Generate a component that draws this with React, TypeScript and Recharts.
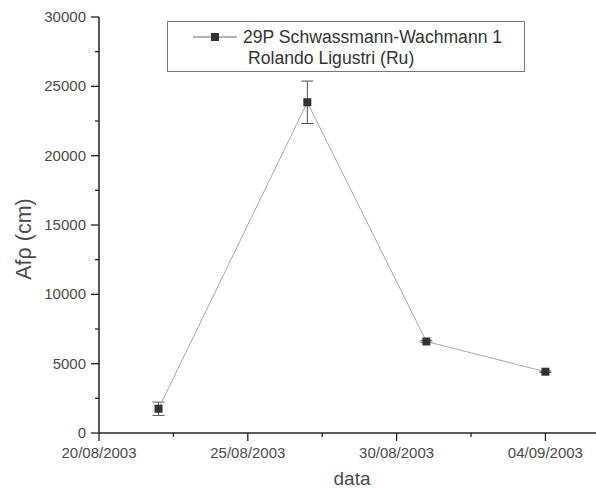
import React from 'react';
import { LineChart, Line, XAxis, YAxis, ErrorBar, Legend } from 'recharts';

const dates = ['22/08/2003', '27/08/2003', '31/08/2003', '04/09/2003'];
const afrho = [1750, 23850, 6600, 4420];
const afrhoErr = [480, 1530, 60, 50];
const xTickLabels = ['20/08/2003', '25/08/2003', '30/08/2003', '04/09/2003'];
const xMinorTickLabels = ['22/08/2003', '27/08/2003', '01/09/2003'];
const yTicks = [0, 5000, 10000, 15000, 20000, 25000, 30000];
const yMinorTicks = [2500, 7500, 12500, 17500, 22500, 27500];
const seriesName = '29P Schwassmann-Wachmann 1';
const seriesSub = 'Rolando Ligustri (Ru)';

const DAY = 86400000;
const parse = (s: string) => {
  const [d, m, y] = s.split('/').map(Number);
  return Date.UTC(y, m - 1, d);
};
const fmt = (t: number) => {
  const dt = new Date(t);
  const dd = String(dt.getUTCDate()).padStart(2, '0');
  const mm = String(dt.getUTCMonth() + 1).padStart(2, '0');
  return `${dd}/${mm}/${dt.getUTCFullYear()}`;
};

const data = dates.map((d, i) => ({ t: parse(d), v: afrho[i], e: afrhoErr[i] }));
const majorX = xTickLabels.map(parse);
// minor ticks halfway between major ticks
const minorX = xMinorTickLabels.map((s) => parse(s) + DAY / 2);
const allX = [...majorX, ...minorX].sort((a, b) => a - b);
const xStart = majorX[0];
const xEnd = xStart + 16.7 * DAY;
const allY = [...yTicks, ...yMinorTicks].sort((a, b) => a - b);

const FONT = 'Liberation Sans, Arial, sans-serif';
const AXIS = '#222';
const TXT = '#4a4a4a';

const XTick = (props: any) => {
  const { x, y, payload } = props;
  const major = majorX.includes(payload.value);
  return (
    <g>
      <line x1={x} x2={x} y1={y} y2={y + (major ? 8 : 4)} stroke={AXIS} strokeWidth={1.3} />
      {major && (
        <text x={x} y={y + 25} textAnchor="middle" fontSize={15} fill={TXT} fontFamily={FONT}>
          {fmt(payload.value)}
        </text>
      )}
    </g>
  );
};

const YTick = (props: any) => {
  const { x, y, payload } = props;
  const major = yTicks.includes(payload.value);
  return (
    <g>
      <line x1={x - (major ? 8 : 4)} x2={x} y1={y} y2={y} stroke={AXIS} strokeWidth={1.3} />
      {major && (
        <text x={x - 13} y={y + 5} textAnchor="end" fontSize={15} fill={TXT} fontFamily={FONT}>
          {payload.value}
        </text>
      )}
    </g>
  );
};

const SquareDot = (props: any) => {
  const { cx, cy } = props;
  if (cx == null || cy == null) return null;
  return <rect x={cx - 4} y={cy - 4} width={8} height={8} fill="#333" />;
};

const LegendBox = () => (
  <svg width={358} height={51} style={{ display: 'block' }}>
    <rect x={0.5} y={0.5} width={357} height={50} fill="#fff" stroke="#777" strokeWidth={1} />
    <line x1={26} x2={70} y1={16} y2={16} stroke="#666" strokeWidth={1} />
    <rect x={44} y={12} width={8} height={8} fill="#333" />
    <text x={76} y={22} fontSize={17.6} fill="#333" fontFamily={FONT}>{seriesName}</text>
    <text x={81} y={43} fontSize={17.6} fill="#333" fontFamily={FONT}>{seriesSub}</text>
  </svg>
);

export default function App() {
  return (
    <div style={{ position: 'absolute', left: 0, top: 0, background: '#fff' }}>
      <LineChart width={596} height={489} data={data} margin={{ top: 17, right: 0, left: 0, bottom: 0 }}>
        <XAxis
          dataKey="t"
          type="number"
          domain={[xStart, xEnd]}
          ticks={allX}
          interval={0}
          height={56}
          tickSize={0}
          tickMargin={0}
          tickLine={false}
          tick={<XTick />}
          axisLine={{ stroke: AXIS, strokeWidth: 1.5 }}
          allowDataOverflow
          label={{
            content: () => (
              <text x={352} y={485} textAnchor="middle" fontSize={19} fill={TXT} fontFamily={FONT}>
                data
              </text>
            ),
          }}
        />
        <YAxis
          type="number"
          domain={[0, 30000]}
          ticks={allY}
          interval={0}
          width={99}
          tickSize={0}
          tickMargin={0}
          tickLine={false}
          tick={<YTick />}
          axisLine={{ stroke: AXIS, strokeWidth: 1.5 }}
          label={{
            content: () => (
              <text
                x={31}
                y={239}
                transform="rotate(-90 31 239)"
                textAnchor="middle"
                fontSize={21.5}
                fill={TXT}
                fontFamily={FONT}
              >
                Afρ (cm)
              </text>
            ),
          }}
        />
        <Legend
          layout="horizontal"
          verticalAlign="middle"
          align="center"
          content={<LegendBox />}
          wrapperStyle={{ left: 167, top: 21, width: 358, height: 51 }}
        />
        <Line
          type="linear"
          dataKey="v"
          name={seriesName}
          stroke="#a8a8a8"
          strokeWidth={1}
          dot={<SquareDot />}
          activeDot={false}
          isAnimationActive={false}
        >
          <ErrorBar dataKey="e" width={6} stroke="#555" strokeWidth={1} direction="y" />
        </Line>
      </LineChart>
    </div>
  );
}
